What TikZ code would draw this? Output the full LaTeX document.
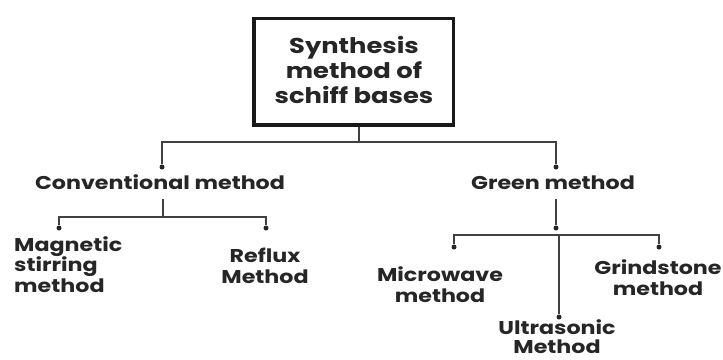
\documentclass[tikz,border=0pt]{standalone}
\usepackage{fontspec}
\setmainfont{Poppins}[FakeStretch=1.2]
\begin{document}
\begin{tikzpicture}[x=1pt,y=-1pt,
  lbl/.style={font=\bfseries\fontsize{18.5}{20.5}\selectfont, inner sep=0pt, align=center, text=black!85},
  titlebox/.style={draw=black!90, line width=3.5pt, minimum width=199.5pt, minimum height=106.2pt, inner sep=0pt},
  titletext/.style={font=\bfseries\fontsize{21.5}{25}\selectfont, inner sep=0pt, align=center, text=black!85},
  ln/.style={line width=1.3pt, draw=black!75},
  dot/.style={circle, fill=black!85, inner sep=0pt, minimum size=5pt}
]
\useasboundingbox (0,0) rectangle (723,359);
\fill[white] (0,0) rectangle (723,359);

\node[titlebox] (root) at (353.5,71.8) {};
\node[titletext, anchor=base] (roottext) at (354,103) {Synthesis\\method of\\schiff bases};

\coordinate (j0) at (359,142);
\node[dot] (dc) at (162,167) {};
\node[dot] (dg) at (556,167) {};
\draw[ln] (root.south -| j0) -- (j0);
\draw[ln] (dc) |- (j0) -| (dg);

\node[lbl, anchor=base] (conv) at (160,189) {Conventional method};
\node[lbl, anchor=base] (green) at (553,189) {Green method};

% conventional subtree
\coordinate (j1) at (163,217);
\coordinate (c1) at (163,199);
\node[dot] (dm) at (59,228) {};
\node[dot] (dr) at (266,228) {};
\draw[ln] (c1) -- (j1);
\draw[ln] (dm) |- (j1) -| (dr);

\node[lbl, align=left, anchor=base west] (mag) at (14,292) {Magnetic\\stirring\\method};
\node[lbl, anchor=base] (ref) at (265,283) {Reflux\\Method};

% green subtree
\coordinate (j2) at (557,235);
\coordinate (c2) at (556,199);
\node[dot] (dg2) at (556,228) {};
\node[dot] (dmw) at (454,247) {};
\node[dot] (dgr) at (659,247) {};
\node[dot] (dus) at (559,317) {};
\draw[ln] (c2) -- (dg2);
\draw[ln] (dmw) |- (j2) -| (dgr);
\draw[ln] (dus) -- (dus |- j2);

\node[lbl, anchor=base] (mw) at (440,302) {Microwave\\method};
\node[lbl, anchor=base] (gr) at (658,295) {Grindstone\\method};
\node[lbl, anchor=base, text depth=0pt, font=\bfseries\fontsize{18.5}{19.5}\selectfont] (us) at (557,353.5) {Ultrasonic\\Method};
\end{tikzpicture}
\end{document}
